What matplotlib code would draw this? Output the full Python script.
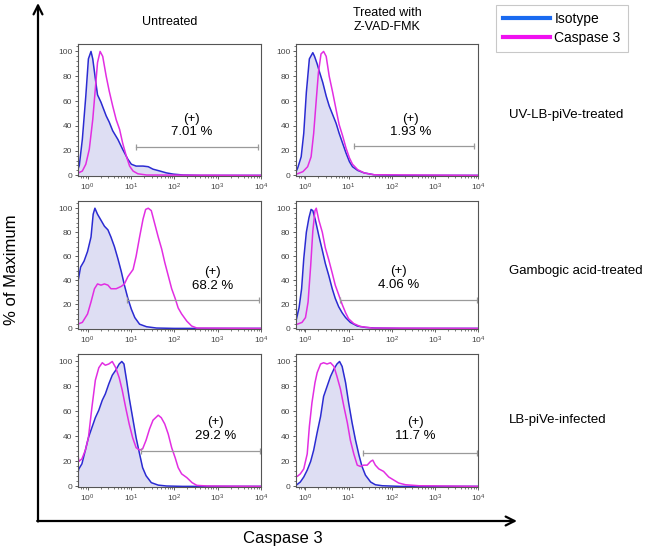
import matplotlib
matplotlib.use("Agg")
import matplotlib.pyplot as plt
from matplotlib.lines import Line2D
from matplotlib.ticker import LogLocator, LogFormatterMathtext, MultipleLocator, NullFormatter
import numpy as np

plt.rcParams['font.family'] = ['Liberation Sans', 'DejaVu Sans']
plt.rcParams['mathtext.default'] = 'regular'

COLUMNS = ["Untreated", "Treated with\nZ-VAD-FMK"]
ROWS = ["UV-LB-piVe-treated", "Gambogic acid-treated", "LB-piVe-infected"]
SERIES = ["Isotype", "Caspase 3"]

# curves: log10(intensity) and % of maximum
# UV-LB-piVe, untreated
ISO_A_LX = [-0.23, -0.22, -0.19, -0.12, -0.04, 0.02, 0.08, 0.12, 0.18, 0.23, 0.31, 0.43, 0.50, 0.58,
            0.70, 0.81, 0.93, 1.01, 1.12, 1.28, 1.40, 1.51, 1.67, 1.82, 1.98, 2.21, 2.6, 4.0]
ISO_A_Y = [30, 5, 8, 29, 64, 94, 100, 94, 78, 65, 59, 48, 43, 36,
           29, 21, 13, 9, 7.5, 7.5, 7, 5, 3.5, 2, 1, 0.3, 0, 0]
CAS_A_LX = [-0.23, -0.21, -0.12, -0.04, 0.04, 0.12, 0.18, 0.23, 0.29, 0.35, 0.43, 0.50, 0.58, 0.66,
            0.74, 0.81, 0.89, 0.97, 1.05, 1.16, 1.36, 4.0]
CAS_A_Y = [1, 2, 3.5, 9, 21, 45, 70, 91, 100, 96, 80, 68, 56, 45,
           37, 26, 16, 7.5, 3.5, 1.3, 0.3, 0]

# UV-LB-piVe, Z-VAD-FMK
ISO_B_LX = [-0.23, -0.22, -0.18, -0.10, -0.04, 0.02, 0.09, 0.17, 0.21, 0.27, 0.32, 0.40, 0.48, 0.55,
            0.63, 0.71, 0.78, 0.86, 0.94, 1.02, 1.09, 1.21, 1.36, 1.59, 2.2, 4.0]
ISO_B_Y = [23, 3, 6, 15, 34, 67, 94, 99, 96, 90, 84, 75, 64, 56,
           49, 42, 34, 26, 18, 11, 7, 4, 2, 0.5, 0, 0]
CAS_B_LX = [-0.23, -0.18, -0.06, 0.05, 0.13, 0.19, 0.25, 0.30, 0.36, 0.42, 0.48, 0.55, 0.63, 0.71,
            0.78, 0.86, 0.94, 1.02, 1.09, 1.21, 1.36, 1.59, 4.0]
CAS_B_Y = [1, 1.4, 3, 7, 15, 34, 61, 83, 98, 100, 96, 80, 67, 53,
           41, 32, 22, 14, 9, 4.6, 2, 0.5, 0]

# Gambogic acid, untreated
ISO_C_LX = [-0.23, -0.21, -0.16, -0.08, 0.0, 0.08, 0.13, 0.17, 0.23, 0.31, 0.39, 0.47, 0.54, 0.62,
            0.70, 0.78, 0.85, 0.93, 1.01, 1.09, 1.20, 1.36, 1.59, 2.0, 4.0]
ISO_C_Y = [40, 41, 51, 56, 64, 76, 95, 100, 95, 90, 85, 82, 76, 68,
           58, 47, 36, 25, 16, 9, 3.5, 1.4, 0.3, 0, 0]
CAS_C_LX = [-0.23, -0.12, 0.0, 0.08, 0.16, 0.23, 0.31, 0.39, 0.47, 0.54, 0.66, 0.78, 0.85, 0.93,
            1.05, 1.12, 1.20, 1.28, 1.34, 1.40, 1.47, 1.55, 1.63, 1.71, 1.78, 1.86, 1.94, 2.02,
            2.09, 2.17, 2.29, 2.40, 2.52, 4.0]
CAS_C_Y = [3.5, 5, 12, 22, 33, 37, 36, 37, 36, 33, 33, 35, 37, 43,
           49, 60, 76, 91, 99, 100, 98, 87, 76, 66, 55, 44, 33, 25,
           17, 12, 6, 2, 0.3, 0]

# Gambogic acid, Z-VAD-FMK
ISO_D_LX = [-0.23, -0.21, -0.15, -0.09, -0.04, 0.02, 0.08, 0.13, 0.17, 0.23, 0.31, 0.39, 0.46, 0.54,
            0.62, 0.69, 0.77, 0.85, 0.93, 1.04, 1.20, 1.39, 1.62, 2.2, 4.0]
ISO_D_Y = [57, 7.6, 17, 33, 58, 80, 92, 99, 98, 90, 77, 65, 54, 44,
           33, 25, 18, 13, 9, 5, 2, 0.8, 0.3, 0, 0]
CAS_D_LX = [-0.23, -0.19, -0.08, 0.0, 0.06, 0.12, 0.17, 0.22, 0.25, 0.31, 0.39, 0.46, 0.54, 0.62,
            0.69, 0.77, 0.85, 0.93, 1.0, 1.12, 1.27, 1.54, 4.0]
CAS_D_Y = [3, 3.5, 5, 9, 22, 52, 81, 98, 100, 90, 80, 67, 57, 46,
           36, 28, 20, 13, 8, 4, 1.6, 0.3, 0]

# LB-piVe infected, untreated
ISO_E_LX = [-0.23, -0.20, -0.13, -0.05, 0.02, 0.10, 0.18, 0.26, 0.34, 0.41, 0.49, 0.57, 0.65, 0.73,
            0.79, 0.84, 0.90, 0.96, 1.04, 1.12, 1.20, 1.27, 1.35, 1.47, 1.63, 1.82, 2.2, 4.0]
ISO_E_Y = [10, 14, 18, 29, 39, 47, 55, 61, 69, 74, 82, 89, 93, 98,
           100, 98, 85, 71, 55, 39, 26, 15, 8.5, 3, 1, 0.3, 0, 0]
CAS_E_LX = [-0.23, -0.22, -0.20, -0.13, -0.05, 0.02, 0.10, 0.18, 0.26, 0.34, 0.41, 0.49, 0.57, 0.65,
            0.73, 0.80, 0.88, 0.96, 1.04, 1.12, 1.20, 1.27, 1.35, 1.43, 1.51, 1.63, 1.70, 1.78,
            1.86, 1.94, 2.02, 2.09, 2.17, 2.29, 2.41, 2.52, 2.76, 4.0]
CAS_E_Y = [100, 25, 20, 22, 29, 39, 63, 85, 95, 99, 97, 98, 100, 95,
           87, 77, 63, 50, 39, 31, 29, 30, 37, 46, 53, 57, 55, 50,
           42, 31, 23, 15, 10, 7, 3, 0.8, 0.3, 0]

# LB-piVe infected, Z-VAD-FMK
ISO_F_LX = [-0.23, -0.19, -0.12, -0.04, 0.04, 0.12, 0.19, 0.27, 0.35, 0.42, 0.50, 0.58, 0.66, 0.73,
            0.79, 0.85, 0.93, 1.0, 1.08, 1.16, 1.24, 1.31, 1.39, 1.51, 1.62, 1.78, 2.2, 4.0]
ISO_F_Y = [1, 1.6, 3.5, 7.5, 13, 20, 29, 43, 56, 72, 80, 88, 94, 98,
           100, 96, 83, 67, 51, 37, 25, 16, 9, 3.5, 1.3, 0.5, 0, 0]
CAS_F_LX = [-0.23, -0.22, -0.19, -0.12, -0.04, 0.04, 0.09, 0.15, 0.22, 0.27, 0.35, 0.42, 0.50, 0.58,
            0.66, 0.73, 0.81, 0.89, 0.97, 1.04, 1.12, 1.20, 1.27, 1.35, 1.43, 1.51, 1.56, 1.62,
            1.70, 1.81, 1.93, 2.05, 2.16, 2.32, 2.63, 3.17, 4.0]
CAS_F_Y = [61, 8, 8, 10, 14, 26, 48, 67, 83, 91, 98, 99, 98, 99,
           96, 88, 78, 64, 51, 37, 26, 17, 16, 17, 17, 20, 21, 17,
           14, 12, 7.5, 5, 2.7, 1.3, 0.5, 0.3, 0]

# gate (+): y level, start and end in log10
GATE_Y = [22.5, 23.5, 24, 24, 28.5, 27]
GATE_START = [1.12, 1.13, 0.91, 0.81, 1.23, 1.33]
GATE_END = [3.93, 3.90, 3.95, 3.98, 3.97, 3.98]
PCT_LABELS = ["7.01 %", "1.93 %", "68.2 %", "4.06 %", "29.2 %", "11.7 %"]
LABEL_LX = [2.40, 2.44, 2.89, 2.16, 2.95, 2.55]
LABEL_Y = [40.5, 40, 41, 42, 46, 46]

ISO_LX = [ISO_A_LX, ISO_B_LX, ISO_C_LX, ISO_D_LX, ISO_E_LX, ISO_F_LX]
ISO_Y = [ISO_A_Y, ISO_B_Y, ISO_C_Y, ISO_D_Y, ISO_E_Y, ISO_F_Y]
CAS_LX = [CAS_A_LX, CAS_B_LX, CAS_C_LX, CAS_D_LX, CAS_E_LX, CAS_F_LX]
CAS_Y = [CAS_A_Y, CAS_B_Y, CAS_C_Y, CAS_D_Y, CAS_E_Y, CAS_F_Y]

blue = '#2b2bd2'
magenta = '#e22ee2'
fill = '#dedef3'

W, H = 646, 547
fig = plt.figure(figsize=(W / 100, H / 100), dpi=100)


def px(x, y):
    return x / W, 1 - y / H


# big axis arrows drawn on an overlay in pixel units
ov = fig.add_axes([0, 0, 1, 1], zorder=0)
ov.set_xlim(0, W)
ov.set_ylim(H, 0)
ov.axis('off')
ov.annotate('', xy=(38, 3), xytext=(38, 521.5),
            arrowprops=dict(arrowstyle='->', lw=1.6, color='black', mutation_scale=16,
                            shrinkA=0, shrinkB=0))
ov.annotate('', xy=(517, 521), xytext=(37.2, 521),
            arrowprops=dict(arrowstyle='->', lw=1.6, color='black', mutation_scale=16,
                            shrinkA=0, shrinkB=0))

col_x = [(78, 261), (296, 478)]
row_y = [(44, 176), (201, 329), (354, 487)]

for i in range(6):
    r, c = divmod(i, 2)
    x0, x1 = col_x[c]
    y0, y1 = row_y[r]
    ax = fig.add_axes([x0 / W, 1 - y1 / H, (x1 - x0) / W, (y1 - y0) / H], zorder=2)
    ix = 10 ** np.array(ISO_LX[i])
    cx = 10 ** np.array(CAS_LX[i])
    ax.fill_between(ix, ISO_Y[i], 0, color=fill, lw=0)
    ax.plot(ix, ISO_Y[i], color=blue, lw=1.1)
    ax.plot(cx, CAS_Y[i], color=magenta, lw=1.1)
    ax.plot([10 ** GATE_START[i], 10 ** GATE_END[i]], [GATE_Y[i], GATE_Y[i]],
            color='#9a9a9a', lw=0.9, marker='|', ms=5, mew=0.9)
    ax.text(10 ** LABEL_LX[i], LABEL_Y[i], "(+)\n" + PCT_LABELS[i],
            ha='center', va='center', fontsize=9.5, linespacing=1.15)
    ax.set_xscale('log')
    ax.set_xlim(10 ** -0.22, 10 ** 4)
    ax.set_ylim(-0.5, 106)
    ax.set_yticks([0, 20, 40, 60, 80, 100])
    ax.yaxis.set_minor_locator(MultipleLocator(4))
    ax.xaxis.set_major_locator(LogLocator(base=10, numticks=10))
    ax.xaxis.set_minor_locator(LogLocator(base=10, subs=np.arange(2, 10), numticks=10))
    ax.xaxis.set_major_formatter(LogFormatterMathtext())
    ax.xaxis.set_minor_formatter(NullFormatter())
    ax.tick_params(which='major', length=2.5, width=0.6, labelsize=6, colors='#444444', pad=1.5)
    ax.tick_params(which='minor', length=1.5, width=0.5, colors='#444444')
    for s in ax.spines.values():
        s.set_color('#555555')
        s.set_linewidth(0.8)

# column and row titles
fig.text(*px(170, 22), COLUMNS[0], ha='center', va='center', fontsize=9)
fig.text(*px(387, 20), COLUMNS[1], ha='center', va='center', fontsize=9, linespacing=1.2)
for lab, yy in zip(ROWS, [115, 271, 420]):
    fig.text(*px(509, yy), lab, ha='left', va='center', fontsize=9.5)

fig.text(*px(12, 270), "% of Maximum", rotation=90, ha='center', va='center', fontsize=12)
fig.text(*px(283, 538), "Caspase 3", ha='center', va='center', fontsize=12)

handles = [Line2D([], [], color='#1a6af0', lw=3), Line2D([], [], color='#f010f0', lw=3)]
leg = fig.legend(handles, SERIES, loc='upper left', bbox_to_anchor=px(496, 5),
                 frameon=True, fancybox=False, edgecolor='#bbbbbb', fontsize=10,
                 handlelength=3.4, borderpad=0.5, labelspacing=0.35, handletextpad=0.3,
                 borderaxespad=0)
leg.get_frame().set_linewidth(0.8)

fig.savefig("out.png", dpi=100)
